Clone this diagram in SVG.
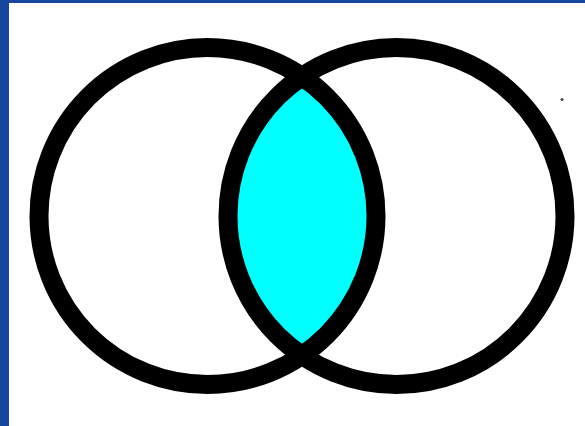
<svg xmlns="http://www.w3.org/2000/svg" width="585" height="426" viewBox="0 0 585 426">
  <style>
    .ring { fill: none; stroke: #000000; stroke-width: 19; }
    .lens { fill: #00ffff; stroke: none; }
  </style>
  <defs>
    <clipPath id="clipLeft">
      <circle cx="207.5" cy="216" r="168.5"/>
    </clipPath>
  </defs>
  <g id="background">
    <rect x="0" y="0" width="585" height="426" fill="#16479c"/>
    <rect x="9" y="3" width="576" height="423" fill="#ffffff"/>
    <circle cx="562" cy="99.5" r="1.5" fill="#444444"/>
  </g>
  <g id="intersection">
    <circle class="lens" cx="396.5" cy="216" r="168.5" clip-path="url(#clipLeft)"/>
  </g>
  <g id="circle-left">
    <circle class="ring" cx="207.5" cy="216" r="168.5"/>
  </g>
  <g id="circle-right">
    <circle class="ring" cx="396.5" cy="216" r="168.5"/>
  </g>
  <g id="connectors"/>
</svg>
